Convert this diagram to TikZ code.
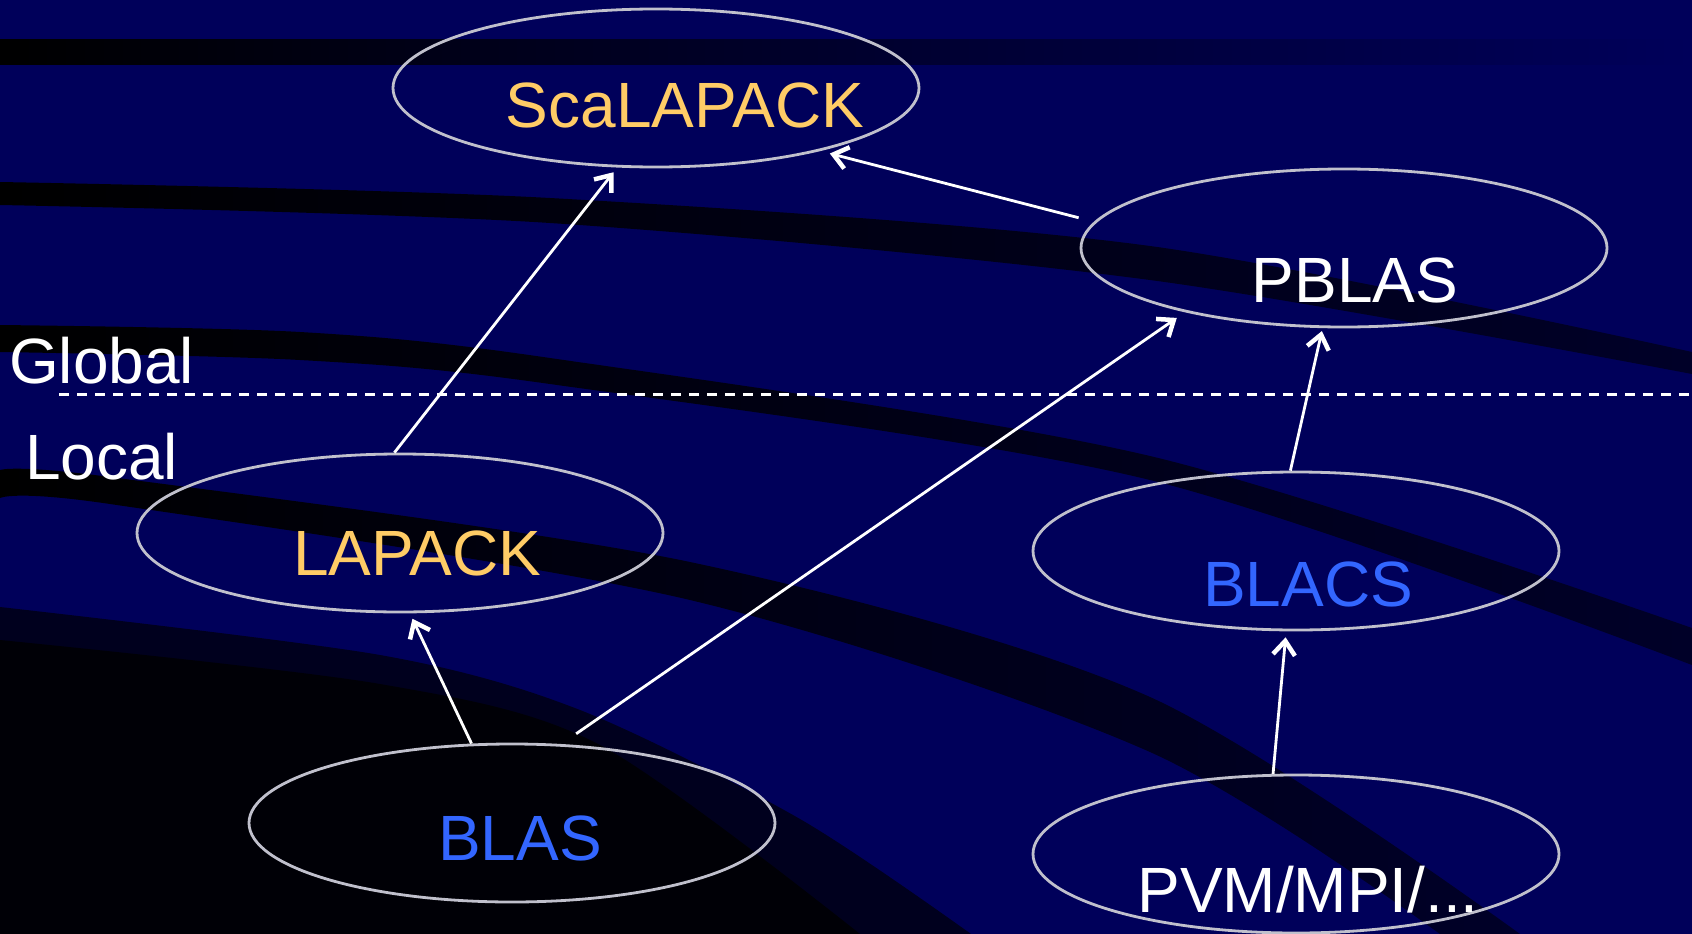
\documentclass[tikz,border=0pt]{standalone}
\usepackage{fontspec}
\setmainfont{Liberation Sans}
\usetikzlibrary{shapes.geometric, arrows.meta, positioning}
\definecolor{navy1}{RGB}{0,0,90}
\definecolor{band1}{RGB}{0,0,40}
\definecolor{dark1}{RGB}{0,0,30}
\definecolor{gold1}{RGB}{255,204,102}
\definecolor{blue1}{RGB}{51,102,255}
\definecolor{rim1}{RGB}{192,192,204}
\tikzset{
  Ellipse1/.style = {
    ellipse, draw = rim1, line width = 2.8pt,
    minimum width = 526pt, minimum height = 158pt, inner sep = 0pt,
  },
  Text1/.style = {
    anchor = base, inner sep = 0pt,
    font = \fontsize{64}{77}\selectfont,
  },
  Arrow1/.style = {
    draw = white, line width = 2.8pt,
    -{Straight Barb[length = 14pt, width = 22pt, line width = 4.5pt]},
  }
}

\begin{document}
\begin{tikzpicture}[x=1pt, y=-1pt]
      \useasboundingbox (0,0) rectangle (1692,934);
      % background with dark stripes
      \fill[navy1] (0,0) rectangle (1692,934);
      \shade[left color=black, right color=navy1] (0,40) rectangle (1692,65);
      \shade[left color=black, right color=band1]
        plot[smooth] coordinates {(0,182) (550,198) (1150,246) (1692,352)}
        -- plot[smooth] coordinates {(1692,374) (1150,280) (550,223) (0,205)} -- cycle;
      \shade[left color=black, right color=band1]
        plot[smooth] coordinates {(0,325) (300,332) (550,358) (1150,456) (1692,628)}
        -- plot[smooth] coordinates {(1692,665) (1150,480) (550,384) (300,360) (0,352)} -- cycle;
      \shade[left color=black, right color=band1]
        plot[smooth] coordinates {(0,470) (110,477) (690,562) (1150,697) (1520,934)}
        -- plot[smooth] coordinates {(1440,934) (1150,752) (690,600) (110,504) (0,498)} -- cycle;
      \fill[dark1]
        plot[smooth] coordinates {(0,607) (380,655) (580,710) (800,819) (971,934)}
        -- (0,934) -- cycle;
      \fill[black!80!dark1]
        plot[smooth] coordinates {(0,640) (380,684) (600,745) (860,934)}
        -- (0,934) -- cycle;

      % the libraries
      \node[Ellipse1] (sca1) at (656,88) {};
      \node[Ellipse1] (pblas1) at (1344,248) {};
      \node[Ellipse1] (lapack1) at (400,533) {};
      \node[Ellipse1] (blacs1) at (1296,551) {};
      \node[Ellipse1] (blas1) at (512,823) {};
      \node[Ellipse1] (pvm1) at (1296,854) {};

      \node[Text1, gold1] (sca2) at ([xshift=29pt, yshift=-39pt]sca1.center) {ScaLAPACK};
      \node[Text1, white] (pblas2) at ([xshift=11pt, yshift=-54pt]pblas1.center) {PBLAS};
      \node[Text1, gold1] (lapack2) at ([xshift=17pt, yshift=-42pt]lapack1.center) {LAPACK};
      \node[Text1, blue1] (blacs2) at ([xshift=12pt, yshift=-55pt]blacs1.center) {BLACS};
      \node[Text1, blue1] (blas2) at ([xshift=8pt, yshift=-37pt]blas1.center) {BLAS};
      \node[Text1, white] (pvm2) at ([xshift=12pt, yshift=-58pt]pvm1.center) {PVM/MPI/...};

      % global / local split
      \coordinate (cut1) at (59,394);
      \coordinate (cut2) at (1692,394);
      \draw[white, line width=3pt, dash pattern=on 10pt off 8pt] (cut1) -- (cut2);
      \node[Text1, anchor=base west, white] (glob1) at (9,383) {Global};
      \node[Text1, anchor=base west, white] (loc1) at (25,479) {Local};

      \draw[Arrow1, shorten >=6pt] (lapack1.94) -- (sca1.244);
      \draw[Arrow1, shorten <=16pt, shorten >=10pt] (pblas1.174) -- (sca1.339);
      \draw[Arrow1, shorten <=18pt, shorten >=10pt] (blas1.58) -- (pblas1.202);
      \draw[Arrow1, shorten >=3pt] (blacs1.94) -- (pblas1.255);
      \draw[Arrow1, shorten >=6pt] (blas1.117) -- (lapack1.277);
      \draw[Arrow1, shorten >=6pt] (pvm1.106) -- (blacs1.263);
    \end{tikzpicture}
\end{document}
